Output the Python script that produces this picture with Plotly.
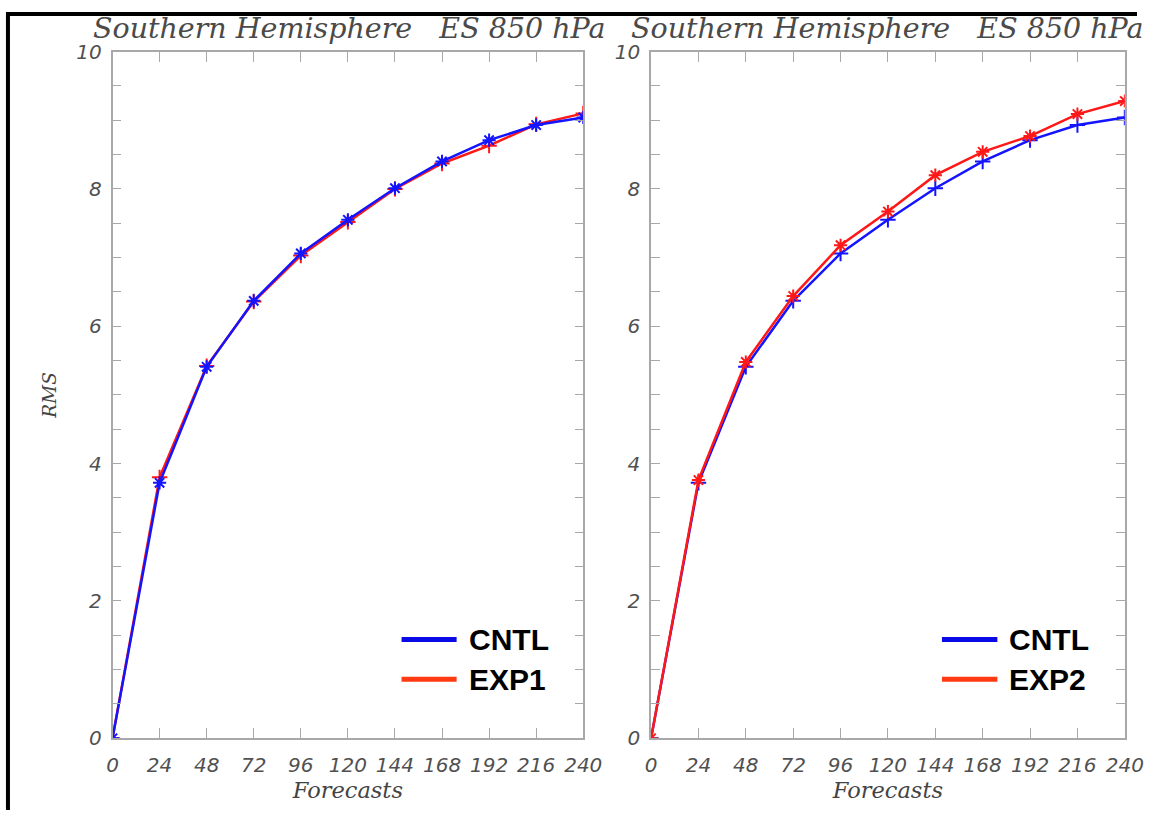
import plotly.graph_objects as go

forecasts = [0, 24, 48, 72, 96, 120, 144, 168, 192, 216, 240]
x_ticks = [0, 24, 48, 72, 96, 120, 144, 168, 192, 216, 240]
y_ticks = [0, 2, 4, 6, 8, 10]

cntl = [0.0, 3.72, 5.41, 6.37, 7.06, 7.55, 8.01, 8.40, 8.71, 8.93, 9.04]
exp1 = [0.0, 3.80, 5.42, 6.36, 7.03, 7.52, 8.00, 8.37, 8.63, 8.94, 9.10]
exp2 = [0.0, 3.76, 5.48, 6.44, 7.18, 7.67, 8.20, 8.54, 8.77, 9.09, 9.28]

title_text = "Southern Hemisphere\u00a0\u00a0\u00a0ES 850 hPa"
BLUE = "#1414ff"
RED = "#ff1818"
LEG_BLUE = "#0a0ae6"
LEG_RED = "#ff3a12"

W, H = 1156, 822
# the photographed page lands slightly inset/scaled; map target pixel positions to page pixels
SX, OX = 0.981, 6.2
SY, OY = 0.974, 10.3
def px(x):
    return (x - OX) / SX / W
def py(y):
    return 1 - (y - OY) / SY / H

fig = go.Figure()

# left panel
fig.add_trace(go.Scatter(x=forecasts, y=exp1, mode="lines+markers", name="EXP1",
                         line=dict(color=RED, width=2.5),
                         marker=dict(symbol="cross-thin-open", size=11, line=dict(color=RED, width=2)),
                         xaxis="x", yaxis="y", showlegend=False))
fig.add_trace(go.Scatter(x=forecasts, y=cntl, mode="lines+markers", name="CNTL",
                         line=dict(color=BLUE, width=2.5),
                         marker=dict(symbol="asterisk-open", size=11, line=dict(color=BLUE, width=2)),
                         xaxis="x", yaxis="y", showlegend=False))
# right panel
fig.add_trace(go.Scatter(x=forecasts, y=cntl, mode="lines+markers", name="CNTL",
                         line=dict(color=BLUE, width=2.5),
                         marker=dict(symbol="cross-thin-open", size=11, line=dict(color=BLUE, width=2)),
                         xaxis="x2", yaxis="y2", showlegend=False))
fig.add_trace(go.Scatter(x=forecasts, y=exp2, mode="lines+markers", name="EXP2",
                         line=dict(color=RED, width=2.5),
                         marker=dict(symbol="asterisk-open", size=11, line=dict(color=RED, width=2)),
                         xaxis="x2", yaxis="y2", showlegend=False))

ydom = [py(739), py(50)]
xdom1 = [px(113), px(585)]
xdom2 = [px(653), px(1128)]

tickfont = dict(family="DejaVu Sans", size=20, color="#505050", style="italic")
axcol = "#a8a8a8"

def xaxis(dom, anchor):
    return dict(domain=dom, anchor=anchor, range=[0, 240], tickvals=x_ticks,
                ticktext=[str(v) for v in x_ticks], ticks="inside", ticklen=11,
                tickcolor=axcol, tickwidth=1.3, showline=True, linecolor=axcol,
                linewidth=1.5, mirror="ticks", showgrid=False, zeroline=False,
                tickfont=tickfont, ticklabelstandoff=8,
                title=dict(text="Forecasts", standoff=4,
                           font=dict(family="DejaVu Serif", size=22.5, color="#444444", style="italic")))

def yaxis(anchor, show_title):
    d = dict(domain=ydom, anchor=anchor, range=[0, 10], tickvals=y_ticks,
             ticktext=[str(v) for v in y_ticks], ticks="inside", ticklen=9,
             tickcolor=axcol, tickwidth=1.3, showline=True, linecolor=axcol,
             linewidth=1.5, mirror="ticks", showgrid=False, zeroline=False,
             tickfont=tickfont, ticklabelstandoff=5,
             minor=dict(dtick=0.5, ticks="inside", ticklen=9, tickcolor=axcol, tickwidth=1.3,
                        showgrid=False))
    if show_title:
        d["title"] = dict(text="RMS", standoff=15,
                          font=dict(family="DejaVu Serif", size=18.5, color="#444444", style="italic"))
    return d

fig.update_layout(
    width=W, height=H,
    margin=dict(l=0, r=0, t=0, b=0),
    paper_bgcolor="white", plot_bgcolor="white",
    xaxis=xaxis(xdom1, "y"), yaxis=yaxis("x", True),
    xaxis2=xaxis(xdom2, "y2"), yaxis2=yaxis("x2", False),
)

shapes = []
annotations = []
for cx in (px(350), px(890)):
    annotations.append(dict(text=title_text, xref="paper", yref="paper",
                            x=cx, y=py(27), showarrow=False, xanchor="center", yanchor="middle",
                            font=dict(family="DejaVu Serif", size=28.5, color="#4a4a4a", style="italic")))

legend_sets = [("x domain", "y domain", ["CNTL", "EXP1"]), ("x2 domain", "y2 domain", ["CNTL", "EXP2"])]
for xr, yr, names in legend_sets:
    for name, col, yy in ((names[0], LEG_BLUE, 0.144), (names[1], LEG_RED, 0.086)):
        shapes.append(dict(type="line", xref=xr, yref=yr, x0=0.614, x1=0.731, y0=yy, y1=yy,
                           line=dict(color=col, width=5)))
        annotations.append(dict(text=name, xref=xr, yref=yr, x=0.752, y=yy, showarrow=False,
                                xanchor="left", yanchor="middle",
                                font=dict(family="Liberation Sans", size=30, color="black", weight="bold")))

# black frame edges (top and left)
shapes.append(dict(type="line", xref="paper", yref="paper", x0=0, x1=1, y0=1 - 2 / H, y1=1 - 2 / H,
                   line=dict(color="black", width=4)))
shapes.append(dict(type="line", xref="paper", yref="paper", x0=2 / W, x1=2 / W, y0=0, y1=1,
                   line=dict(color="black", width=4)))

fig.update_layout(shapes=shapes, annotations=annotations)
post = ("document.documentElement.style.margin='0';document.documentElement.style.overflow='hidden';"
        "document.body.style.margin='0';document.body.style.overflow='hidden';")
fig.write_html("out.html", config={"displayModeBar": False}, post_script=post)
